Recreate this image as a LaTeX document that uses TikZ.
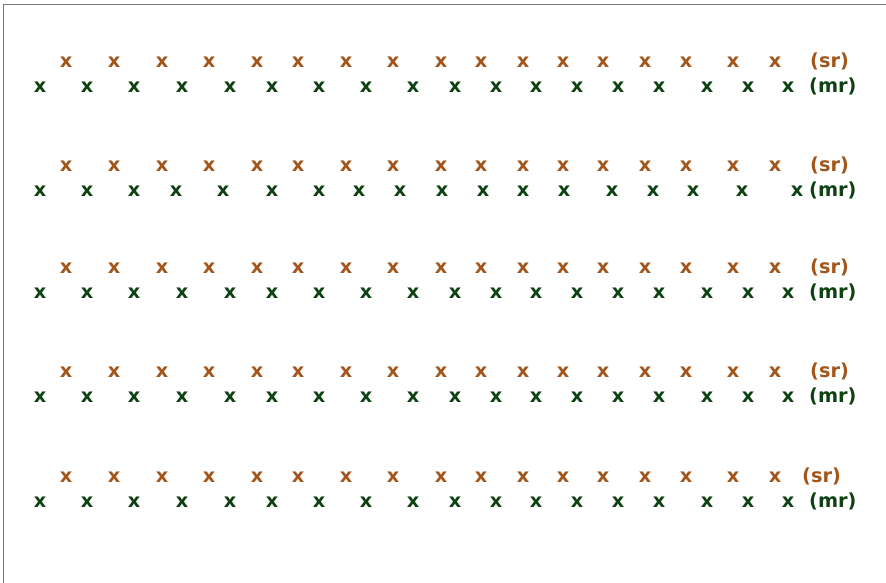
\documentclass[tikz,border=0pt]{standalone}
\usepackage{fontspec}
\newfontfamily\dejavu{DejaVu Sans}
\definecolor{srcol}{HTML}{A3561C}
\definecolor{mrcol}{HTML}{0F4212}
\definecolor{framecol}{HTML}{7A7A7A}
% horizontal positions of the marks (px)
\newcommand{\srxs}{66,114,162,209,257,298,346,393,441,481,523,563,603,645,686,733,775}
\newcommand{\mrxs}{40,87,134,182,230,272,319,366,413,455,496,536,577,618,659,707,748,788}
\newcommand{\mrxsb}{40,87,134,176,223,272,319,359,400,442,483,523,564,612,653,693,742,797}

\begin{document}
\begin{tikzpicture}[x=1pt,y=-1pt,
    lbl/.style={font=\dejavu\bfseries\fontsize{19.3}{23}\selectfont,inner sep=0pt},
    srx/.style={lbl,srcol,anchor=base},
    mrx/.style={lbl,mrcol,anchor=base}]
  \useasboundingbox (0,0) rectangle (886,583);
  % frame, only top and left edge show
  \draw[framecol,line width=1.3pt] (3.5,583) -- (3.5,4.7) -- (886,4.7);
  % five pairs of rows
  \foreach \r/\y/\sx in {1/62/810,2/166/810,3/268/810,4/372/810,5/477/802} {
    \foreach \x [count=\i] in \srxs \node[srx] (sr\r-\i) at (\x,\y+5.5) {x};
    \node[srx,anchor=base west] (srlab\r) at (\sx,\y+5.5) {(sr)};
    \ifnum\r=2 \let\xs\mrxsb \else \let\xs\mrxs \fi
    \foreach \x [count=\i] in \xs \node[mrx] (mr\r-\i) at (\x,\y+30.5) {x};
    \node[mrx,anchor=base west] (mrlab\r) at (809,\y+30.5) {(mr)};
  }
\end{tikzpicture}
\end{document}
